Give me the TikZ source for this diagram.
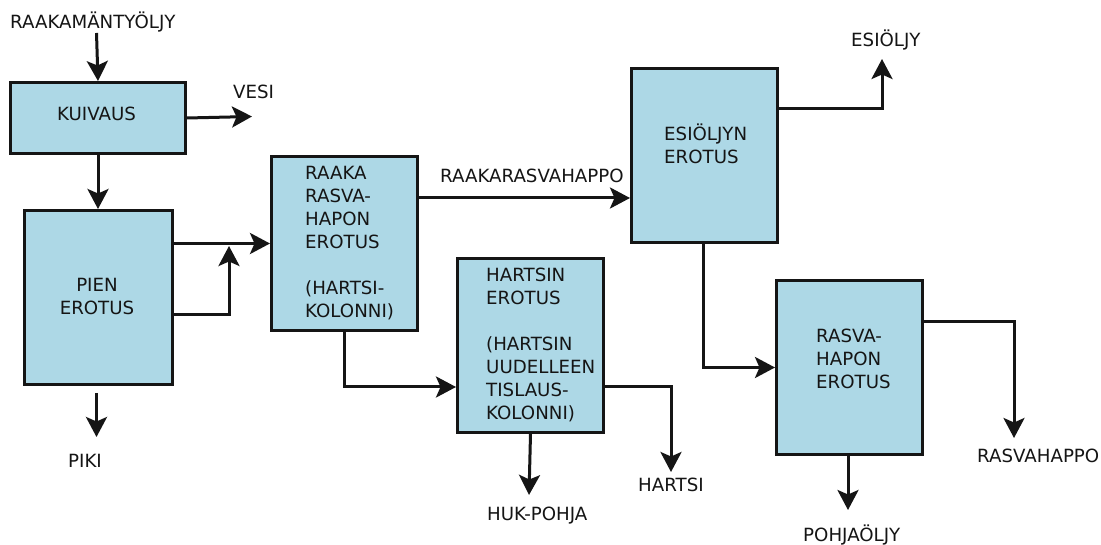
\documentclass[tikz,border=0pt]{standalone}
\usepackage{fontspec}
\setmainfont{DejaVu Sans}
\usetikzlibrary{arrows.meta}
\definecolor{boxfill}{HTML}{ADD8E6}
\definecolor{ink}{HTML}{151515}
\newcommand\topstrut{\rule{0pt}{18pt}}
\begin{document}
\begin{tikzpicture}[x=1pt,y=-1pt,
  box/.style={draw=ink,fill=boxfill,line width=3pt,inner sep=0pt,anchor=north west,minimum width=146pt,minimum height=174pt},
  txt/.style={inner sep=0pt,font=\fontsize{18.2}{23}\selectfont,text=ink},
  btxt/.style={txt,align=left,anchor=north west},
  lbl/.style={txt,anchor=base west},
  arr/.style={draw=ink,line width=3pt,-{Stealth[length=20pt,width=21pt,inset=4.5pt]}},
  ln/.style={draw=ink,line width=3pt}]
\useasboundingbox (0,0) rectangle (1101,545);
\fill[white] (0,0) rectangle (1101,545);

% boxes
\node[box,minimum width=175pt,minimum height=71pt] (kuiv) at (9,81) {};
\node[box,minimum width=148pt] (pien) at (23,209) {};
\node[box] (raaka) at (270,155) {};
\node[box] (hart) at (456,257) {};
\node[box] (esi) at (630,67) {};
\node[box] (rasva) at (775,279) {};

% box texts
\node[txt,anchor=base] (tkuiv) at (96.5,120.7) {KUIVAUS};
\node[txt,align=center,anchor=north] (tpien) at (97,291-18) {\topstrut PIEN\\EROTUS};
\node[btxt] (traaka) at (305,179.3-18) {\topstrut RAAKA\\RASVA-\\HAPON\\EROTUS\\[23pt](HARTSI-\\KOLONNI)};
\node[btxt] (thart) at (486,281.5-18) {\topstrut HARTSIN\\EROTUS\\[23pt](HARTSIN\\UUDELLEEN\\TISLAUS-\\KOLONNI)};
\node[btxt] (tesi) at (664,140-18) {\topstrut ESIÖLJYN\\EROTUS};
\node[btxt] (trasva) at (816,342.7-18) {\topstrut RASVA-\\HAPON\\EROTUS};

% free labels
\node[lbl] (lraaka) at (10,28.3) {RAAKAMÄNTYÖLJY};
\node[lbl] (lvesi) at (233,99) {VESI};
\node[lbl] (lpiki) at (68,467.7) {PIKI};
\node[lbl] (lrr) at (440,182.3) {RAAKARASVAHAPPO};
\node[lbl] (lhuk) at (487,520) {HUK-POHJA};
\node[lbl] (lhartsi) at (638,491.7) {HARTSI};
\node[lbl] (lesi) at (851,46.7) {ESIÖLJY};
\node[lbl] (lrh) at (977,462.7) {RASVAHAPPO};
\node[lbl] (lpohja) at (803,541.7) {POHJAÖLJY};

% free ends
\coordinate (inS) at (96.5,33);
\coordinate (vesiE) at (252,116.5);
\coordinate (pikiS) at (96.5,393);
\coordinate (pikiE) at (96.5,437);
\coordinate (hukE) at (529,495);
\coordinate (hartsiE) at (671,472);
\coordinate (esioE) at (882,59);
\coordinate (rhE) at (1014,438);
\coordinate (pohE) at (848,510);

% connectors
\draw[arr] (inS) -- (kuiv.north);
\draw[arr] (kuiv.east) -- (vesiE);
\draw[arr] (kuiv.south) -- (kuiv.south |- pien.north);
\draw[arr] (pikiS) -- (pikiE);
\draw[arr] (pien.east |- raaka.west) -- (raaka.west);
\draw[arr] (pien.east |- 0,315) -| (229,246);
\draw[arr] (raaka.east |- 0,198) -- (esi.west |- 0,198);
\draw[arr] (raaka.south) |- (hart.west |- 0,387);
\draw[arr] (hart.south) -- (hukE);
\draw[arr] (hart.east |- 0,387) -| (hartsiE);
\draw[arr] (esi.east |- 0,109) -| (esioE);
\draw[arr] (esi.south -| 703,0) |- (rasva.west);
\draw[arr] (rasva.east |- 0,322) -| (rhE);
\draw[arr] (rasva.south -| pohE) -- (pohE);
\end{tikzpicture}
\end{document}
